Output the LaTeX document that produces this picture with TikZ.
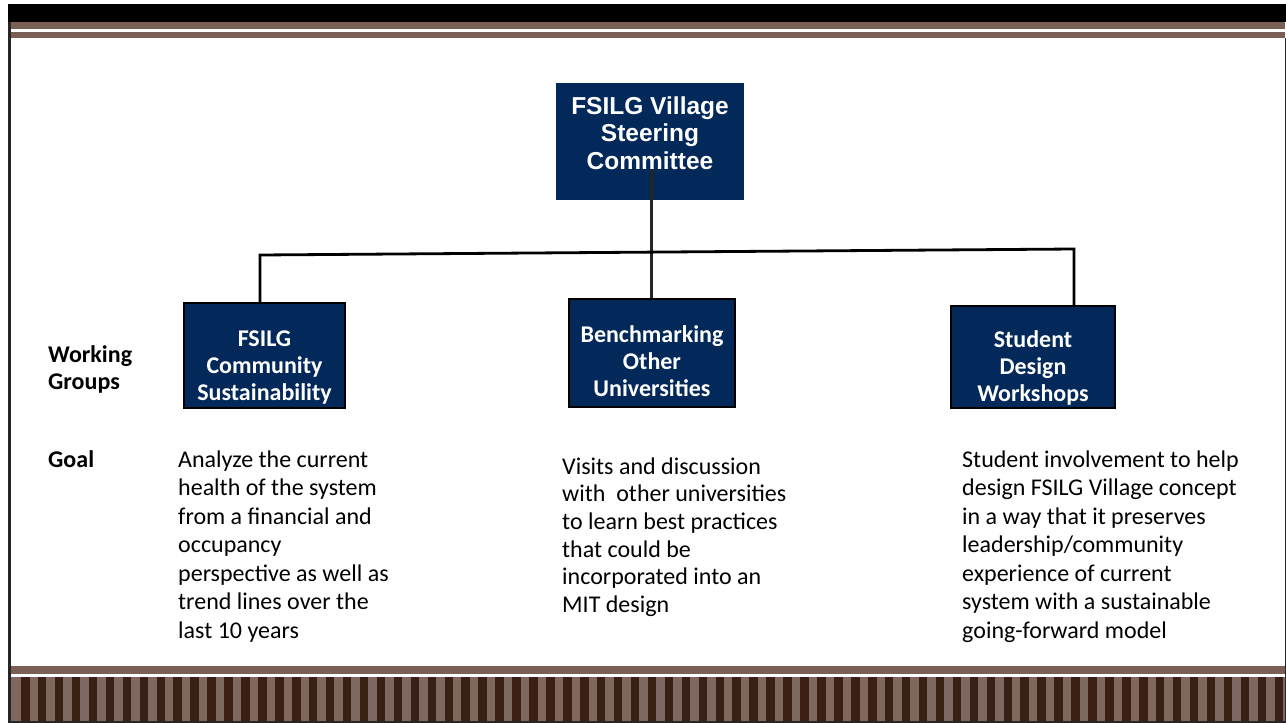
\documentclass[tikz,border=0pt]{standalone}
\usepackage{fontspec}
\setmainfont{Carlito}
\newfontfamily\arialf{Liberation Sans}
\definecolor{navy}{HTML}{03285A}
\definecolor{bandbrown}{HTML}{7A5F54}
\definecolor{stripedark}{HTML}{3A1F14}
\definecolor{stripelight}{HTML}{7E6860}
\tikzset{
  wgbox/.style={draw=black, line width=2.5pt, fill=navy, inner sep=0pt},
  wgtext/.style={text=white, align=center, inner sep=0pt, font=\fontsize{24}{27}\selectfont\bfseries},
  topbox/.style={fill=navy, inner sep=0pt},
  toptext/.style={text=white, align=center, inner sep=0pt, font=\arialf\fontsize{24.5}{27.5}\selectfont\bfseries},
  conn/.style={draw=black, line width=2.8pt},
  goaltext/.style={anchor=north west, align=left, inner sep=0pt, font=\fontsize{24}{28.5}\selectfont},
  sidelabel/.style={anchor=north west, align=left, inner sep=0pt, font=\fontsize{24}{27}\selectfont\bfseries}
}
\begin{document}
\begin{tikzpicture}[x=1pt,y=-1pt]
\useasboundingbox (0,0) rectangle (1286,723);
\fill[white] (0,0) rectangle (1286,723);
% header
\fill[black] (8,4) rectangle (1286,22);
\fill[bandbrown] (11,22) rectangle (1285,29);
\fill[bandbrown] (11,32) rectangle (1285,38);
% side borders
\fill[black!85] (8,22) rectangle (11,723);
\fill[black!85] (1284.5,38) rectangle (1286,723);
% footer
\fill[bandbrown] (11,666) rectangle (1285,674);
\fill[stripelight] (11,677) rectangle (1285,721);
\foreach \k in {0,...,75} {
  \pgfmathsetmacro{\xa}{21+16.94*\k}
  \pgfmathsetmacro{\xb}{min(\xa+8.5,1285)}
  \ifdim\xa pt<1285pt
    \fill[stripedark] (\xa,677) rectangle (\xb,721);
  \fi
}
\fill[black!85] (8,721) rectangle (1286,723);

% boxes
\node[topbox, minimum width=188pt, minimum height=117pt] (top) at (650,141.5) {};
\node[toptext] (topt) at (650,133) {FSILG Village\\Steering\\Committee};
\node[wgbox, minimum width=161pt, minimum height=105pt] (wg1) at (264.5,355.5) {};
\node[wgbox, minimum width=166pt, minimum height=108pt] (wg2) at (652,353) {};
\node[wgbox, minimum width=164pt, minimum height=102pt] (wg3) at (1033,357) {};
\node[wgtext] (wg1t) at (264.5,368) {FSILG\\Community\\Sustainability};
\node[wgtext] (wg2t) at (652,361.5) {Benchmarking\\Other\\Universities};
\node[wgtext] (wg3t) at (1033,368) {Student\\Design\\Workshops};

% connectors
\coordinate (tj) at (651,170);
\coordinate (hl) at (260,255);
\coordinate (hr) at (1074,249);
\draw[conn, black!85, line width=3pt] (tj) -- (tj |- wg2.north);
\draw[conn, line cap=rect] (hl |- wg1.north) -- (hl) -- (hr) -- (hr |- wg3.north);

% labels
\node[sidelabel] (wglabel) at (48,345) {Working\\Groups};
\node[sidelabel] (goallabel) at (48,450.5) {Goal};

\node[goaltext] (g1) at (178,450.5) {Analyze the current\\health of the system\\from a financial and\\occupancy\\perspective as well as\\trend lines over the\\last 10 years};
\node[goaltext, font=\fontsize{24}{27.6}\selectfont] (g2) at (562,457.5) {Visits and discussion\\with\ \ other universities\\to learn best practices\\that could be\\incorporated into an\\MIT design};
\node[goaltext] (g3) at (962,450.5) {Student involvement to help\\design FSILG Village concept\\in a way that it preserves\\leadership/community\\experience of current\\system with a sustainable\\going-forward model};
\end{tikzpicture}
\end{document}
